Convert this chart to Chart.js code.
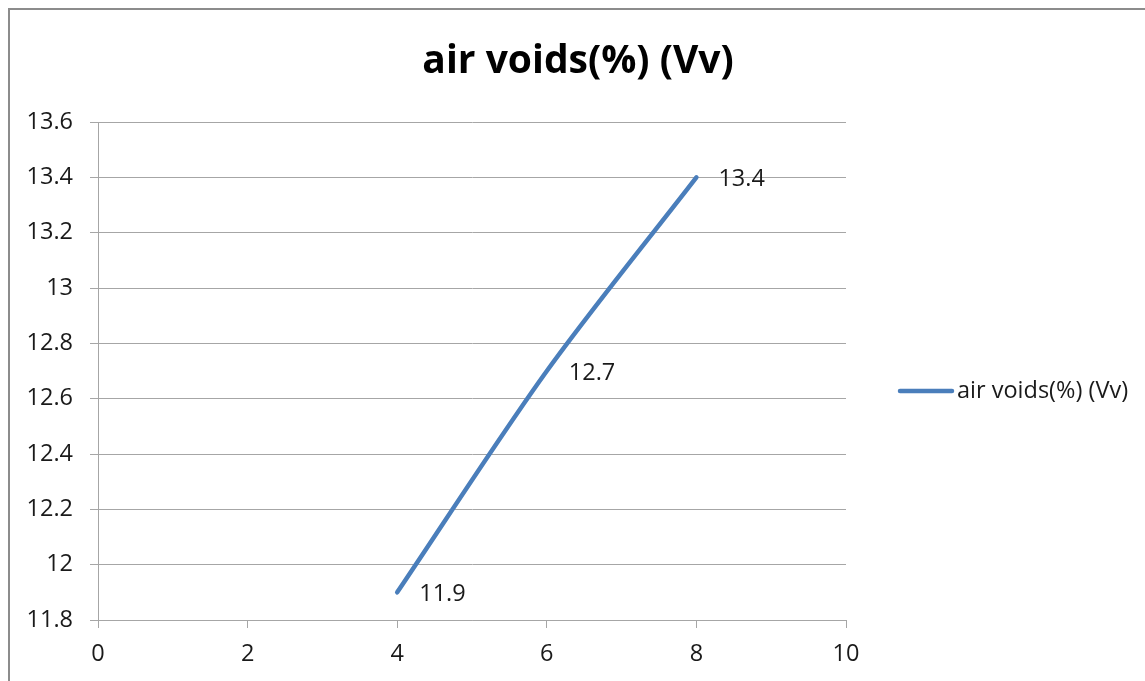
<!DOCTYPE html>
<html>
<head>
<meta charset="utf-8">
<title>air voids(%) (Vv)</title>
<script src="https://cdn.jsdelivr.net/npm/chart.js@4/dist/chart.umd.min.js"></script>
<style>
  html, body { margin: 0; padding: 0; background: #fff; overflow: hidden; }
  #wrap { position: relative; width: 1145px; height: 681px; }
  #frame {
    position: absolute; left: 8px; top: 8px; width: 1200px; height: 800px;
    border: 2px solid #8c8c8c; pointer-events: none;
  }
  canvas { position: absolute; left: 0; top: 0; }
</style>
</head>
<body>
<div id="wrap">
  <canvas id="voidsChart" width="1145" height="681"></canvas>
  <div id="frame"></div>
</div>
<script>
// series data
const seriesName = 'air voids(%) (Vv)';
const xValues = [4, 6, 8];
const yValues = [11.9, 12.7, 13.4];
const xTicks = [0, 2, 4, 6, 8, 10];
const yTicks = [11.8, 12, 12.2, 12.4, 12.6, 12.8, 13, 13.2, 13.4, 13.6];

const FONT = "'Open Sans', 'Liberation Sans', sans-serif";
const LINE_COLOR = '#4a7ebb';
const GRID_COLOR = '#a6a6a6';
const TEXT_COLOR = '#1a1a1a';
const SMALL = 23.5;

const points = xValues.map((x, i) => ({ x: x, y: yValues[i] }));

// title, legend and value labels drawn straight on the canvas
const decorations = {
  id: 'decorations',
  afterDatasetsDraw(chart) {
    const ctx = chart.ctx;
    const meta = chart.getDatasetMeta(0);
    ctx.save();
    ctx.fillStyle = TEXT_COLOR;
    ctx.font = `${SMALL}px ${FONT}`;
    ctx.textAlign = 'left';
    ctx.textBaseline = 'middle';
    meta.data.forEach((pt, i) => {
      ctx.fillText(String(yValues[i]), pt.x + 22, pt.y + 2);
    });
    ctx.restore();
  },
  afterDraw(chart) {
    const ctx = chart.ctx;
    ctx.save();
    // title
    ctx.fillStyle = '#000';
    ctx.font = `bold 39px ${FONT}`;
    ctx.textAlign = 'center';
    ctx.textBaseline = 'middle';
    ctx.fillText(chart.data.datasets[0].label, 578, 62);

    // legend
    ctx.strokeStyle = LINE_COLOR;
    ctx.lineWidth = 4.5;
    ctx.lineCap = 'round';
    ctx.beginPath();
    ctx.moveTo(900, 391);
    ctx.lineTo(952, 391);
    ctx.stroke();
    ctx.fillStyle = TEXT_COLOR;
    ctx.font = `${SMALL}px ${FONT}`;
    ctx.textAlign = 'left';
    ctx.fillText(chart.data.datasets[0].label, 957, 391);
    ctx.restore();
  }
};

new Chart(document.getElementById('voidsChart'), {
  type: 'line',
  data: {
    datasets: [{
      label: seriesName,
      data: points,
      borderColor: LINE_COLOR,
      borderWidth: 4.5,
      borderCapStyle: 'round',
      tension: 0.3,
      pointRadius: 0,
      fill: false
    }]
  },
  options: {
    responsive: false,
    animation: false,
    layout: { padding: { top: 122, right: 299, bottom: 0, left: 0 } },
    plugins: {
      legend: { display: false },
      title: { display: false },
      tooltip: { enabled: false }
    },
    scales: {
      x: {
        type: 'linear',
        min: xTicks[0],
        max: xTicks[xTicks.length - 1],
        afterBuildTicks: (scale) => { scale.ticks = xTicks.map(v => ({ value: v })); },
        afterFit: (scale) => { scale.height = 61; },
        grid: { drawOnChartArea: false, tickLength: 8, color: GRID_COLOR },
        border: { color: GRID_COLOR, width: 1 },
        ticks: { color: TEXT_COLOR, font: { family: FONT, size: SMALL }, padding: 12, maxRotation: 0 }
      },
      y: {
        type: 'linear',
        min: yTicks[0],
        max: yTicks[yTicks.length - 1],
        afterBuildTicks: (scale) => { scale.ticks = yTicks.map(v => ({ value: v })); },
        afterFit: (scale) => { scale.width = 98; },
        grid: { tickLength: 8, color: GRID_COLOR, lineWidth: 1 },
        border: { color: GRID_COLOR, width: 1 },
        ticks: {
          color: TEXT_COLOR,
          font: { family: FONT, size: SMALL },
          padding: 17,
          callback: (v) => String(Number(v.toFixed(1)))
        }
      }
    }
  },
  plugins: [decorations]
});
</script>
</body>
</html>
